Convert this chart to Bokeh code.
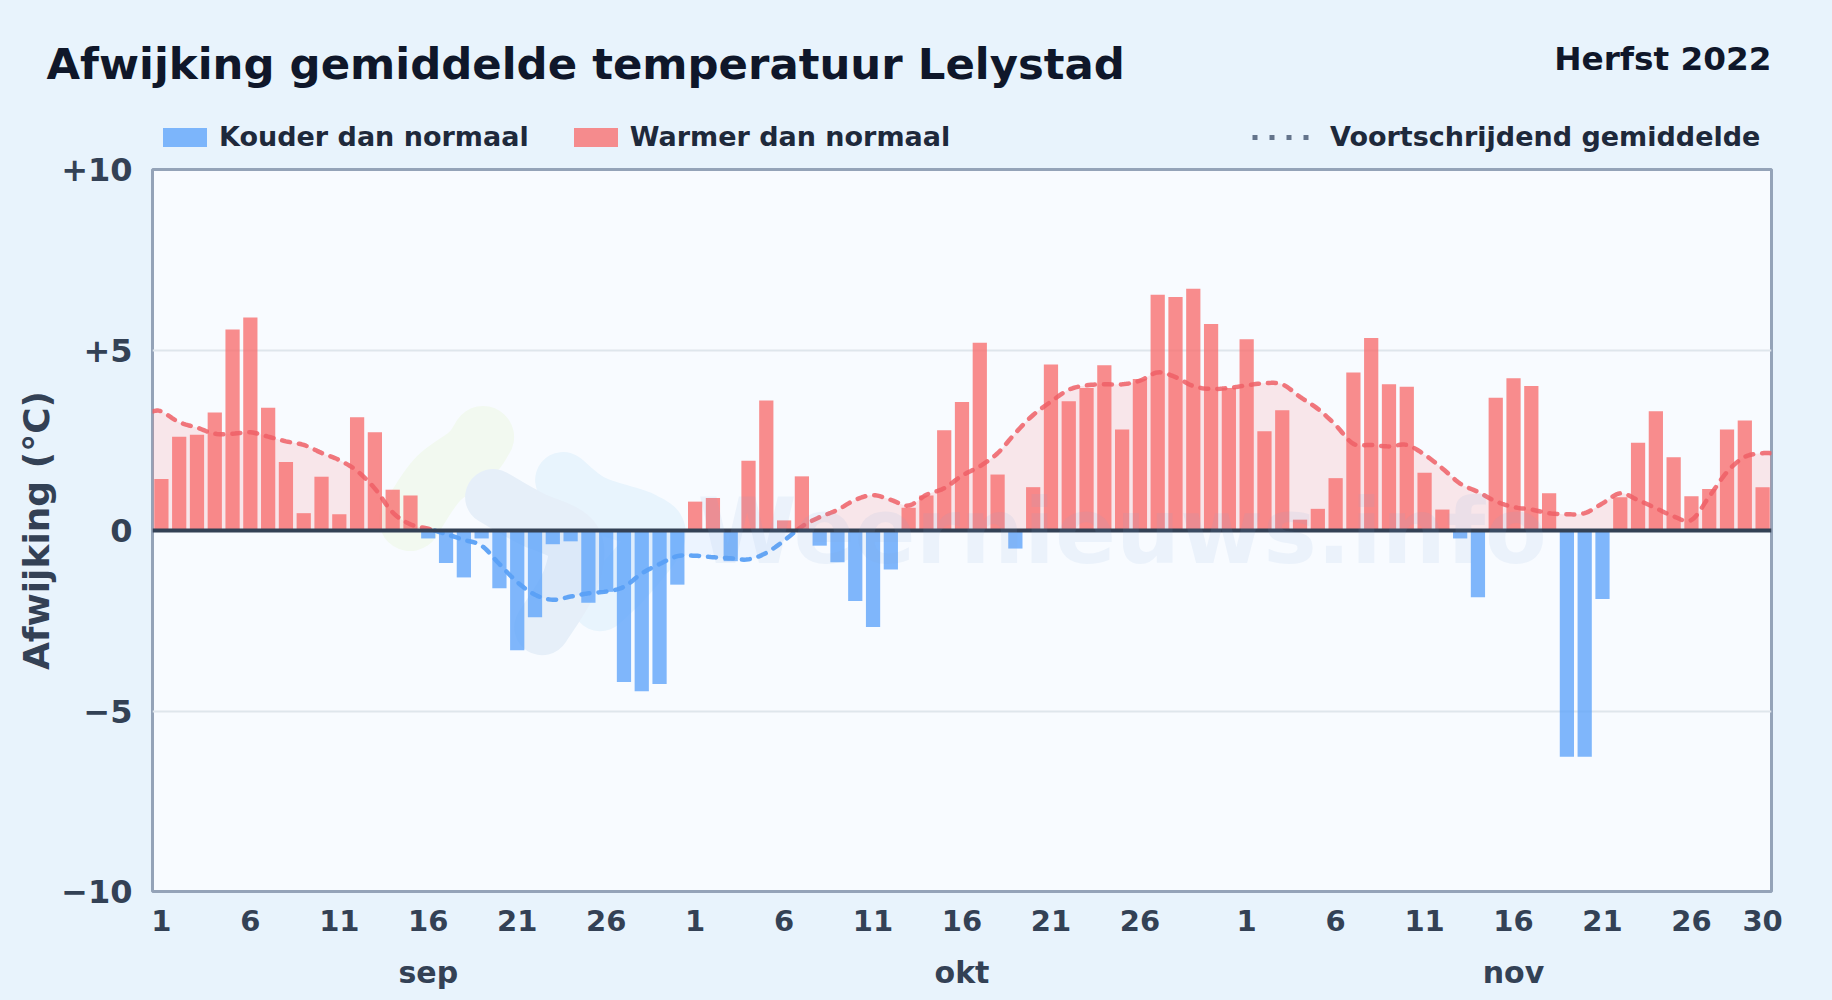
from bokeh.plotting import figure, curdoc
from bokeh.layouts import column
from bokeh.models import (Label, Span, FixedTicker, LinearAxis, Range1d, CustomJS, Legend, LegendItem)
from bokeh.embed import file_html
from bokeh.resources import INLINE
import numpy as np

FONT = "DejaVu Sans"
PAGE_BG = "#e8f3fc"
PLOT_BG = "#f8fbff"
BLUE = "#60a5fa"
RED = "#f87171"

title_text = "Afwijking gemiddelde temperatuur Lelystad"
season_text = "Herfst 2022"
legend_cold = "Kouder dan normaal"
legend_warm = "Warmer dan normaal"
legend_avg = "Voortschrijdend gemiddelde"
y_title = "Afwijking (°C)"
watermark = "Weernieuws.info"

y_ticks = [-10, -5, 0, 5, 10]
y_tick_labels = ["−10", "−5", "0", "+5", "+10"]
months = ["sep", "okt", "nov"]
month_days = [30, 31, 30]

sep_values = [1.43, 2.6, 2.65, 3.27, 5.57, 5.9, 3.4, 1.9, 0.48, 1.49, 0.45, 3.14, 2.72, 1.13, 0.97,
              -0.22, -0.9, -1.3, -0.22, -1.6, -3.32, -2.4, -0.38, -0.3, -2.0, -1.7, -4.2, -4.45, -4.25, -1.5]
okt_values = [0.8, 0.9, -0.85, 1.93, 3.6, 0.28, 1.5, -0.42, -0.88, -1.95, -2.67, -1.08, 0.63, 0.97, 2.78, 3.56,
              5.2, 1.55, -0.5, 1.2, 4.6, 3.58, 3.95, 4.58, 2.8, 4.2, 6.53, 6.47, 6.7, 5.72, 3.95]
nov_values = [5.3, 2.75, 3.33, 0.3, 0.6, 1.45, 4.38, 5.33, 4.05, 3.98, 1.6, 0.58, -0.22, -1.85, 3.68,
              4.22, 4.0, 1.03, -6.27, -6.27, -1.9, 0.92, 2.43, 3.3, 2.03, 0.95, 1.15, 2.8, 3.05, 1.2]

sep_avg = [3.3, 3.0, 2.85, 2.68, 2.68, 2.72, 2.6, 2.47, 2.37, 2.15, 1.95, 1.65, 1.16, 0.5, 0.17,
           0.05, -0.1, -0.26, -0.42, -0.93, -1.43, -1.78, -1.92, -1.83, -1.74, -1.69, -1.56, -1.19, -0.93, -0.71]
okt_avg = [-0.7, -0.74, -0.77, -0.8, -0.62, -0.28, 0.11, 0.37, 0.57, 0.85, 0.98, 0.85, 0.69, 0.99, 1.17, 1.52,
           1.78, 2.14, 2.7, 3.2, 3.57, 3.9, 4.02, 4.05, 4.05, 4.15, 4.38, 4.25, 4.0, 3.92, 3.95]
nov_avg = [4.02, 4.08, 4.05, 3.7, 3.37, 2.92, 2.4, 2.37, 2.33, 2.37, 2.1, 1.72, 1.3, 1.07, 0.81,
           0.65, 0.58, 0.48, 0.45, 0.48, 0.75, 1.03, 0.84, 0.62, 0.39, 0.29, 0.94, 1.62, 2.04, 2.14]

values = np.array(sep_values + okt_values + nov_values)
avg = np.array(sep_avg + okt_avg + nov_avg)
n = len(values)
days = np.arange(1, n + 1)

W, H = 1824, 992
HEAD = 152
L, R, T, B = 152, 53, 17, 101

# ---- header figure: title, season, legend ----
head = figure(width=W, height=HEAD, x_range=Range1d(0, W), y_range=Range1d(0, HEAD),
              output_backend="svg", toolbar_location=None, frame_align=False,
              min_border_left=0, min_border_right=0, min_border_top=0, min_border_bottom=0,
              background_fill_color=PAGE_BG, border_fill_color=PAGE_BG, outline_line_color=None)
head.xaxis.visible = False
head.yaxis.visible = False
head.grid.visible = False

# ---- main figure ----
p = figure(width=W, height=H - HEAD, x_range=Range1d(0.5, n + 0.5), y_range=Range1d(-10, 10),
           output_backend="svg", toolbar_location=None, frame_align=False,
           min_border_left=L, min_border_right=R, min_border_top=T, min_border_bottom=B,
           background_fill_color=PLOT_BG, border_fill_color=PAGE_BG,
           outline_line_color="#94a3b8", outline_line_width=3)
p.xaxis.visible = False
p.xgrid.visible = False
p.ygrid.ticker = FixedTicker(ticks=[-5, 5])
p.ygrid.grid_line_color = "#dfe6ec"
p.ygrid.grid_line_width = 2

ya = p.yaxis[0]
ya.ticker = FixedTicker(ticks=y_ticks)
ya.major_label_overrides = dict(zip(y_ticks, y_tick_labels))
ya.major_tick_line_color = None
ya.minor_tick_line_color = None
ya.axis_line_color = None
ya.major_label_text_font = FONT
ya.major_label_text_font_style = "bold"
ya.major_label_text_font_size = "32px"
ya.major_label_text_color = "#334155"
ya.major_label_standoff = 14
ya.axis_label = y_title
ya.axis_label_text_font = FONT
ya.axis_label_text_font_style = "bold"
ya.axis_label_text_font_size = "36px"
ya.axis_label_text_color = "#334155"
ya.axis_label_standoff = 1

tick_pos, tick_lab = [], []
start = 0
for md in month_days:
    for d in range(1, 27, 5):
        tick_pos.append(start + d)
        tick_lab.append(str(d))
    start += md
tick_pos.append(n)
tick_lab.append(str(month_days[-1]))
xa = LinearAxis(ticker=FixedTicker(ticks=tick_pos),
                major_label_overrides=dict(zip(tick_pos, tick_lab)),
                major_tick_line_color=None, minor_tick_line_color=None, axis_line_color=None,
                major_label_text_font=FONT, major_label_text_font_style="bold",
                major_label_text_font_size="29px", major_label_text_color="#334155",
                major_label_standoff=12)
p.add_layout(xa, "below")

mid = np.cumsum([0] + month_days[:-1]) + 16
ma = LinearAxis(ticker=FixedTicker(ticks=[int(m) for m in mid]),
                major_label_overrides={int(m): t for m, t in zip(mid, months)},
                major_tick_line_color=None, minor_tick_line_color=None, axis_line_color=None,
                major_label_text_font=FONT, major_label_text_font_style="bold",
                major_label_text_font_size="30px", major_label_text_color="#334155",
                major_label_standoff=15)
p.add_layout(ma, "below")


def catmull(x, y, k=8):
    x, y = np.asarray(x, float), np.asarray(y, float)
    xs, ys = [], []
    def spline(v, i, t):
        a = np.concatenate([[v[0]], v, [v[-1]]])
        p0, p1, p2, p3 = a[i], a[i + 1], a[i + 2], a[i + 3]
        return 0.5 * (2 * p1 + (p2 - p0) * t + (2 * p0 - 5 * p1 + 4 * p2 - p3) * t * t + (3 * p1 - p0 - 3 * p2 + p3) * t ** 3)
    for i in range(len(y) - 1):
        for t in np.linspace(0, 1, k, endpoint=False):
            xs.append(spline(x, i, t))
            ys.append(spline(y, i, t))
    xs.append(x[-1]); ys.append(y[-1])
    return np.array(xs), np.array(ys)


# watermark shapes (page pixels -> data space)
def px(xs):
    return (np.asarray(xs) - 152.5) / (1618.5 / n) + 0.5
def py(ys):
    return (530.4 - np.asarray(ys)) / 36.05
blobs = [
    ([483, 470, 437, 410], [437, 455, 480, 520], 62, "#f2f9f0"),
    ([563, 593, 643, 657, 627, 600], [480, 503, 520, 537, 577, 603], 56, "#e8f4fd"),
    ([493, 530, 573, 570, 542], [497, 518, 540, 580, 627], 56, "#e6eff9"),
]
for bx, by, bw, bc in blobs:
    cx, cy = catmull(px(bx), py(by), 12)
    p.line(cx, cy, line_width=bw, line_color=bc, line_cap="round", line_join="round")

ex = np.concatenate([[0.5], days, [n + 0.5]])
ey = np.concatenate([[avg[0]], avg, [avg[-1]]])
sx, sy = catmull(ex, ey)

p.varea(sx, np.zeros_like(sy), np.maximum(sy, 0), fill_color=RED, fill_alpha=0.15)
p.varea(sx, np.zeros_like(sy), np.minimum(sy, 0), fill_color=BLUE, fill_alpha=0.08)

pos = values >= 0
p.vbar(days[pos], top=values[pos], bottom=0, width=0.8, fill_color=RED, fill_alpha=0.8, line_color=None)
p.vbar(days[~pos], top=0, bottom=values[~pos], width=0.8, fill_color=BLUE, fill_alpha=0.8, line_color=None)

p.add_layout(Span(location=0, dimension="width", line_color="#334155", line_width=4))

p.line(sx, np.where(sy >= 0, sy, np.nan), line_color="#ef5f66", line_width=4.5, line_alpha=0.85,
       line_dash="8 9", line_cap="round")
p.line(sx, np.where(sy < 0, sy, np.nan), line_color="#5aa0f5", line_width=4.5, line_alpha=0.95,
       line_dash="8 9", line_cap="round")


def lab(fig, text, x, y, size, color, align="left", style="bold", alpha=1.0):
    fig.add_layout(Label(x=x, y=y, x_units="canvas", y_units="canvas", text=text, text_font=FONT,
                         text_font_style=style, text_font_size=f"{size}px", text_color=color, text_alpha=alpha,
                         text_align=align, text_baseline="alphabetic"))

lab(p, watermark, 697, 565 - 34 - HEAD, 90, "#7fa8d8", alpha=0.1)
lab(head, title_text, 46, 79 - 16, 43.4, "#0f172a")
lab(head, season_text, 1771, 70 - 12, 32.7, "#0f172a", "right")

# legend keys live in the header figure (off-range) and carry the same styles as the marks
cold_key = head.vbar([-100], top=[-100], bottom=[-101], width=1, fill_color=BLUE, fill_alpha=0.8, line_color=None)
warm_key = head.vbar([-100], top=[-100], bottom=[-101], width=1, fill_color=RED, fill_alpha=0.8, line_color=None)
avg_key = head.line([-100, -90], [-100, -100], line_color="#64748b", line_width=5, line_dash="5 12")


def legend(items, x, glyph_w, glyph_h, standoff, spacing):
    lg = Legend(items=items, orientation="horizontal", location=(x, 0),
                glyph_width=glyph_w, glyph_height=glyph_h, label_standoff=standoff, spacing=spacing,
                padding=0, margin=0, border_line_color=None, background_fill_alpha=0,
                label_text_font=FONT, label_text_font_style="bold", label_text_font_size="27px",
                label_text_color="#1e293b", label_height=19, click_policy="none")
    head.add_layout(lg)

legend([LegendItem(label=legend_cold, renderers=[cold_key]), LegendItem(label=legend_warm, renderers=[warm_key])],
       157, 55, 24, 7, 39)
legend([LegendItem(label=legend_avg, renderers=[avg_key])], 1252, 58, 24, 20, 0)

page = column(head, p, spacing=0)
curdoc().add_root(page)
curdoc().js_on_event("document_ready", CustomJS(code=f"document.body.style.background='{PAGE_BG}';"))

open("out.html", "w").write(file_html(page, INLINE))
